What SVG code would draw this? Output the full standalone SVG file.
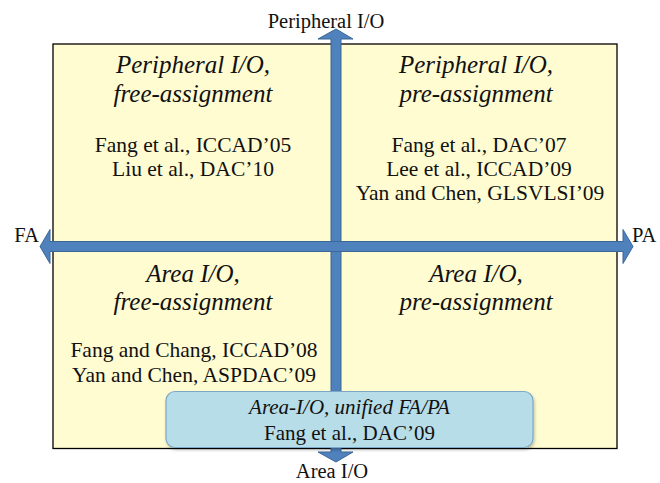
<svg xmlns="http://www.w3.org/2000/svg" width="660" height="483" viewBox="0 0 660 483" font-family="'Liberation Serif', 'Times New Roman', serif">
<defs>
<style>
text{font-family:"Liberation Serif","Times New Roman",serif;fill:#111;text-anchor:middle}
.h{font-size:25px;font-style:italic}
.r{font-size:21.5px}
.ax{font-size:20.5px}
.bx{font-size:21px}
.arrow{fill:#4F81BD;stroke:#3A6796;stroke-width:1}
</style>
<filter id="sh" x="-5%" y="-20%" width="110%" height="140%">
<feDropShadow dx="1" dy="2" stdDeviation="1.5" flood-color="#000" flood-opacity="0.25"/>
</filter>
</defs>
<rect width="660" height="483" fill="#fff"/>
<g id="frame">
<rect x="53" y="44" width="564" height="404.5" fill="#FFFCD2" stroke="#000" stroke-width="1.3"/>
</g>
<g id="connectors">
<polygon class="arrow" points="336,29 353,39 341,39 341,452 353,452 336,462 318,452 331,452 331,39 318,39"/>
<polygon class="arrow" points="40,246.5 50,229.5 50,241.5 623,241.5 623,229.5 633,246.5 623,263.5 623,251.5 50,251.5 50,263.5"/>
</g>
<g id="q-peripheral-fa">
<text class="h" x="193" y="73">Peripheral I/O,</text>
<text class="h" x="193" y="102">free-assignment</text>
<text class="r" x="193" y="152">Fang et al., ICCAD’05</text>
<text class="r" x="193" y="176">Liu et al., DAC’10</text>
</g>
<g id="q-peripheral-pa">
<text class="h" x="476" y="73">Peripheral I/O,</text>
<text class="h" x="476" y="102">pre-assignment</text>
<text class="r" x="479" y="152">Fang et al., DAC’07</text>
<text class="r" x="479" y="176">Lee et al., ICCAD’09</text>
<text class="r" x="480" y="200">Yan and Chen, GLSVLSI’09</text>
</g>
<g id="q-area-fa">
<text class="h" x="193" y="282">Area I/O,</text>
<text class="h" x="193" y="310">free-assignment</text>
<text class="r" x="194" y="357">Fang and Chang, ICCAD’08</text>
<text class="r" x="194" y="382">Yan and Chen, ASPDAC’09</text>
</g>
<g id="q-area-pa">
<text class="h" x="476" y="282">Area I/O,</text>
<text class="h" x="476" y="310">pre-assignment</text>
</g>
<g id="unified">
<rect x="166" y="391.5" width="367" height="56" rx="9" fill="#B7DDE8" stroke="#7BA7C7" stroke-width="1.2" filter="url(#sh)"/>
<text class="bx" x="349.5" y="414" font-style="italic">Area-I/O, unified FA/PA</text>
<text class="bx" x="349.5" y="440">Fang et al., DAC’09</text>
</g>
<g id="label-top"><text class="ax" x="326" y="28">Peripheral I/O</text></g>
<g id="label-bottom"><text class="ax" x="332" y="478">Area I/O</text></g>
<g id="label-fa"><text class="ax" x="39" y="242" style="text-anchor:end">FA</text></g>
<g id="label-pa"><text class="ax" x="632" y="242" style="text-anchor:start">PA</text></g>
</svg>
